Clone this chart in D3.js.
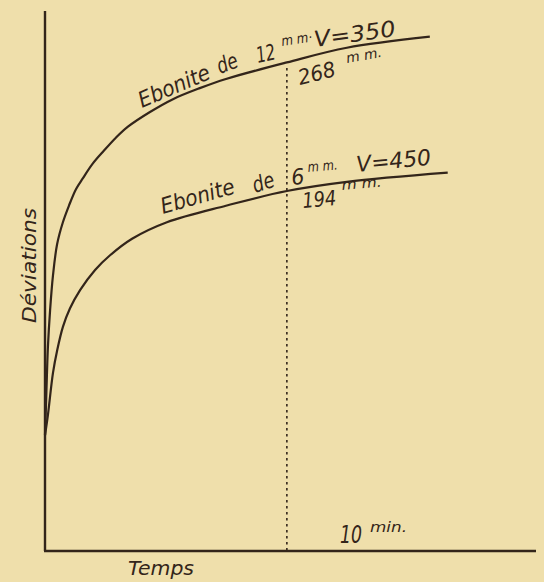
<!DOCTYPE html>
<html>
<head>
<meta charset="utf-8">
<script src="https://cdn.jsdelivr.net/npm/d3@7"></script>
<style>
body{margin:0;background:#efdfab;}
svg{display:block;}
text{font-family:"DejaVu Sans",sans-serif;font-style:italic;fill:#33251a;}
</style>
</head>
<body>
<svg id="chart"></svg>
<script>
const width=544;
const height=582;

// time in minutes, deviation in mm
const timeThick=[0,0.04,0.08,0.12,0.21,0.33,0.5,0.74,0.99,1.28,1.57,1.98,2.44,2.93,3.43,4.34,5.29,6.4,7.48,10,12.48,15.91];
const devThick=[63,79,96,111,131,150,167,179,188,197,203,211,218,225,231,239,246,252,257,266,274,280];
const timeThin=[0,0.12,0.33,0.5,0.74,1.03,1.45,2.07,2.69,3.6,5.04,7.48,10,12.48,16.65];
const devThin=[63,74,97,109,122,132,142,153,161,170,179,188,196,201,206];
const markTime=10;
const xMax=20.3;
const yMax=294;

const ink='#33251a';

const svg=d3.select('#chart').attr('width',width).attr('height',height);

const x=d3.scaleLinear().domain([0,xMax]).range([45,536]);
const y=d3.scaleLinear().domain([0,yMax]).range([551,11]);

const line=d3.line().x(d=>x(d[0])).y(d=>y(d[1])).curve(d3.curveCatmullRom.alpha(0.5));

// dotted marker at 10 min
svg.append('line')
  .attr('x1',x(markTime)).attr('x2',x(markTime))
  .attr('y1',y(263)).attr('y2',y(0))
  .attr('stroke',ink).attr('stroke-width',1.6)
  .attr('stroke-dasharray','2.5,3.5');

// axes
svg.append('line').attr('x1',x(0)).attr('x2',x(0)).attr('y1',y(yMax)).attr('y2',y(0))
  .attr('stroke',ink).attr('stroke-width',2.4);
svg.append('line').attr('x1',x(0)-1).attr('x2',x(xMax)).attr('y1',y(0)).attr('y2',y(0))
  .attr('stroke',ink).attr('stroke-width',2.4);

[[timeThick,devThick],[timeThin,devThin]].forEach(function(s){
  svg.append('path')
    .datum(s[0].map((t,i)=>[t,s[1][i]]))
    .attr('d',line)
    .attr('fill','none')
    .attr('stroke',ink)
    .attr('stroke-width',2.2);
});

// lettering: [x px, y px, angle, size, text, length]
const notes=[
  [142,108,-23,22,'Ebonite',76],
  [220,74,-21,22,'de',21],
  [258,63,-12,22,'12',19],
  [282,46,-8,14,'m m·',31],
  [315,47,-7.7,22,'V=350',82],
  [300,85,-14,21,'268',38],
  [347,63,-10,14,'m m.',36],
  [163,214,-16,22,'Ebonite',76],
  [255,193,-18,22,'de',22],
  [292,185,-5,22,'6',13],
  [308,172,-5,14,'m m.',30],
  [357,172,-5.7,22,'V=450',75],
  [303,208,-5,21,'194',34],
  [342,190,-5,14,'m m.',40],
  [340,543,0,24,'10',22],
  [370,532,0,14,'min.',37],
  [128,575,0,20,'Temps',66]
];

svg.selectAll('text.note')
  .data(notes)
  .enter().append('text')
  .attr('class','note')
  .attr('transform',d=>'translate('+d[0]+','+d[1]+') rotate('+d[2]+')')
  .attr('font-size',d=>d[3])
  .attr('textLength',d=>d[5])
  .attr('lengthAdjust','spacingAndGlyphs')
  .text(d=>d[4]);

svg.append('text')
  .attr('transform','translate(36,323) rotate(-90)')
  .attr('font-size',20)
  .attr('textLength',115)
  .attr('lengthAdjust','spacingAndGlyphs')
  .text('Déviations');
</script>
</body>
</html>
